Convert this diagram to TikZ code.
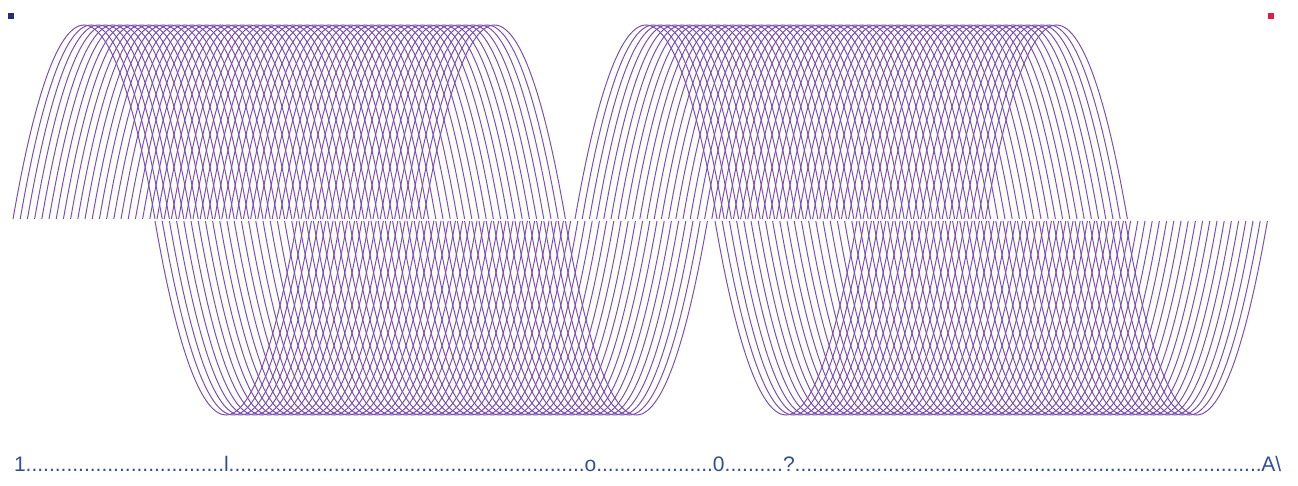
\documentclass[tikz,border=0pt]{standalone}
\usepackage{fontspec}
\setmainfont{Liberation Sans}
\usepackage{xcolor}
\usepackage{tikz}
\usetikzlibrary{positioning}

\definecolor{wavepurple}{RGB}{124,80,176}
\definecolor{markblue}{RGB}{40,44,120}
\definecolor{markred}{RGB}{222,30,60}
\definecolor{labelblue}{RGB}{50,78,152}

\newcommand\leaderdots[1]{\foreach \i in {1,...,#1}{.}}
% half wave: start x, base y, height (signed)
\newcommand\halfwave[3]{%
  \draw[wave] plot[domain=0:180, samples=31, smooth]
    ({#1 + 71*(0.25*(1-cos(\x)) + 0.75*\x/90)}, {#2 - #3*sin(\x)});}

\begin{document}
\begin{tikzpicture}[
  x=1pt, y=-1pt,
  wave/.style={wavepurple, line width=1pt},
  label/.style={font=\fontsize{21}{21}\selectfont, text=labelblue, inner sep=0pt, outer sep=0pt}
]
\useasboundingbox (0,0) rectangle (1298,486);

% Corner marks
\fill[markblue] (8,13) rectangle (14,19);
\fill[markred] (1268,13) rectangle (1274,19);

% First hump, upper arcs
\foreach \k in {0,...,57} {\halfwave{13+7.2*\k}{219}{194}}

% First trough, lower arcs
\foreach \k in {0,...,57} {\halfwave{155+7.2*\k}{221}{-194}}

% Second hump, upper arcs
\foreach \k in {0,...,57} {\halfwave{575+7.2*\k}{219}{194}}

% Second trough, lower arcs
\foreach \k in {0,...,57} {\halfwave{715+7.2*\k}{221}{-194}}

% Scale line
\node[label, anchor=base west] (one) at (14,471) {1};
\node[label, base right=0pt of one] (dotsa) {\leaderdots{34}};
\node[label, base right=0pt of dotsa] (ell) {l};
\node[label, base right=0pt of ell] (dotsb) {\leaderdots{61}};
\node[label, base right=0pt of dotsb] (oh) {o};
\node[label, base right=0pt of oh] (dotsc) {\leaderdots{20}};
\node[label, base right=0pt of dotsc] (zero) {0};
\node[label, base right=0pt of zero] (dotsd) {\leaderdots{10}};
\node[label, base right=0pt of dotsd] (quest) {?};
\node[label, base right=0pt of quest] (dotse) {\leaderdots{80}};
\node[label, base right=0pt of dotse] (aend) {A\textbackslash};

\end{tikzpicture}
\end{document}
